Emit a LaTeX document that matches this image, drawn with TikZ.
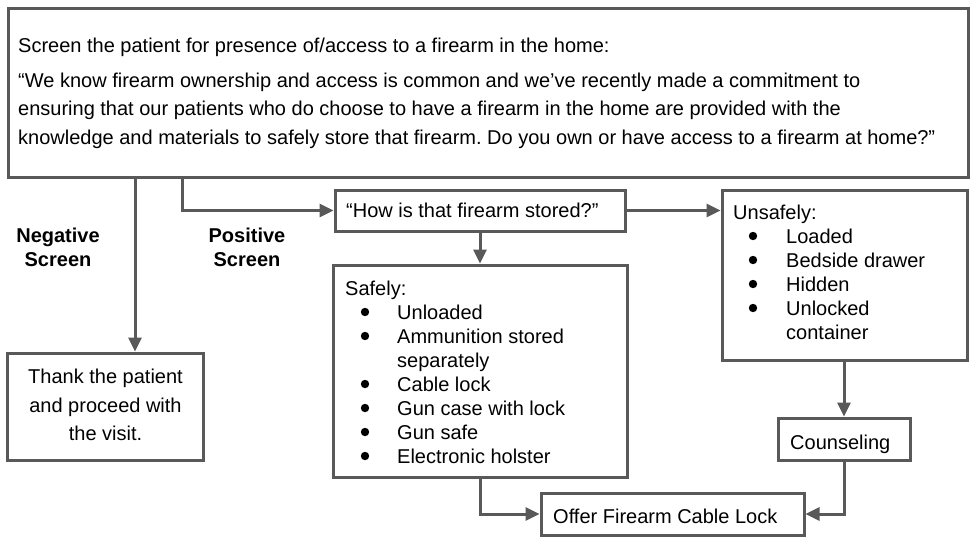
\documentclass[tikz,border=0pt]{standalone}
\usepackage{fontspec}
\setmainfont{Liberation Sans}
\usetikzlibrary{arrows.meta}
\definecolor{linegray}{HTML}{595959}
\frenchspacing
\begin{document}
\begin{tikzpicture}[x=1pt,y=-1pt,
  box/.style={draw=linegray,line width=3pt,rectangle,inner sep=0pt,fill=white},
  txt/.style={anchor=base west,inner sep=0pt,font=\fontsize{20}{24}\selectfont},
  ctxt/.style={anchor=base,inner sep=0pt,font=\fontsize{20}{24}\selectfont},
  btxt/.style={anchor=base,inner sep=0pt,font=\fontsize{20}{24}\selectfont\bfseries},
  bulletdot/.style={fill=black},
  arr/.style={draw=linegray,line width=3pt,-{Triangle[length=14pt,width=13pt]}}]
\useasboundingbox[fill=white] (0,0) rectangle (975,544);

% boxes
\node[box,minimum width=960pt,minimum height=169pt] (main) at (488,92.5) {};
\node[box,minimum width=290pt,minimum height=41pt] (how) at (480,210.5) {};
\node[box,minimum width=245pt,minimum height=170pt] (unsafe) at (844.5,275) {};
\node[box,minimum width=294pt,minimum height=212pt] (safe) at (480,371) {};
\node[box,minimum width=196pt,minimum height=107pt] (thank) at (105,406.5) {};
\node[box,minimum width=132pt,minimum height=42pt] (counsel) at (844,439) {};
\node[box,minimum width=263pt,minimum height=42pt] (offer) at (672.5,514) {};

% main text
\node[txt] (m1) at (18,52) {Screen the patient for presence of/access to a firearm in the home:};
\node[txt] (m2) at (18,87) {“We know firearm ownership and access is common and we’ve recently made a commitment to};
\node[txt] (m3) at (18,115.5) {ensuring that our patients who do choose to have a firearm in the home are provided with the};
\node[txt] (m4) at (18,144) {knowledge and materials to safely store that firearm. Do you own or have access to a firearm at home?”};

% how
\node[txt] (h1) at (346,217) {“How is that firearm stored?”};

% unsafe list
\node[txt] (u0) at (733,219) {Unsafely:};
\foreach \t [count=\i] in {Loaded,Bedside drawer,Hidden,Unlocked}{
  \fill[bulletdot] (753,212+24*\i) circle (4.2pt);
  \node[txt] (ut\i) at (786,219+24*\i) {\t};
}
\node[txt] (ut5) at (786,339) {container};

% safe list
\node[txt] (s0) at (345,295) {Safely:};
\fill[bulletdot] (365,312) circle (4.2pt);
\node[txt] (st1) at (397,319) {Unloaded};
\fill[bulletdot] (365,336) circle (4.2pt);
\node[txt] (st2) at (397,343) {Ammunition stored};
\node[txt] (st2b) at (397,367) {separately};
\foreach \t [count=\i] in {Cable lock,Gun case with lock,Gun safe,Electronic holster}{
  \fill[bulletdot] (365,360+24*\i) circle (4.2pt);
  \node[txt] (st\i x) at (397,367+24*\i) {\t};
}

% thank
\node[ctxt] (th1) at (105.5,383) {Thank the patient};
\node[ctxt] (th2) at (105.5,412) {and proceed with};
\node[ctxt] (th3) at (105.5,440) {the visit.};

% counsel / offer
\node[txt] (c1) at (790,449) {Counseling};
\node[txt] (o1) at (553,523) {Offer Firearm Cable Lock};

% labels
\node[btxt] (neg1) at (58,242) {Negative};
\node[btxt] (neg2) at (58,266) {Screen};
\node[btxt] (pos1) at (247,242) {Positive};
\node[btxt] (pos2) at (247,266) {Screen};

% connectors
\coordinate (negx) at (135,0);
\coordinate (posx) at (182,0);
\draw[arr] (main.south -| negx) -- (thank.north -| negx);
\draw[arr] (main.south -| posx) |- (how.west);
\draw[arr] (how.south) -- (safe.north);
\draw[arr] (how.east) -- (how.east -| unsafe.west);
\draw[arr] (counsel.north |- unsafe.south) -- (counsel.north);
\draw[arr] (safe.south) |- (offer.west);
\draw[arr] (counsel.south) |- (offer.east);
\end{tikzpicture}
\end{document}
